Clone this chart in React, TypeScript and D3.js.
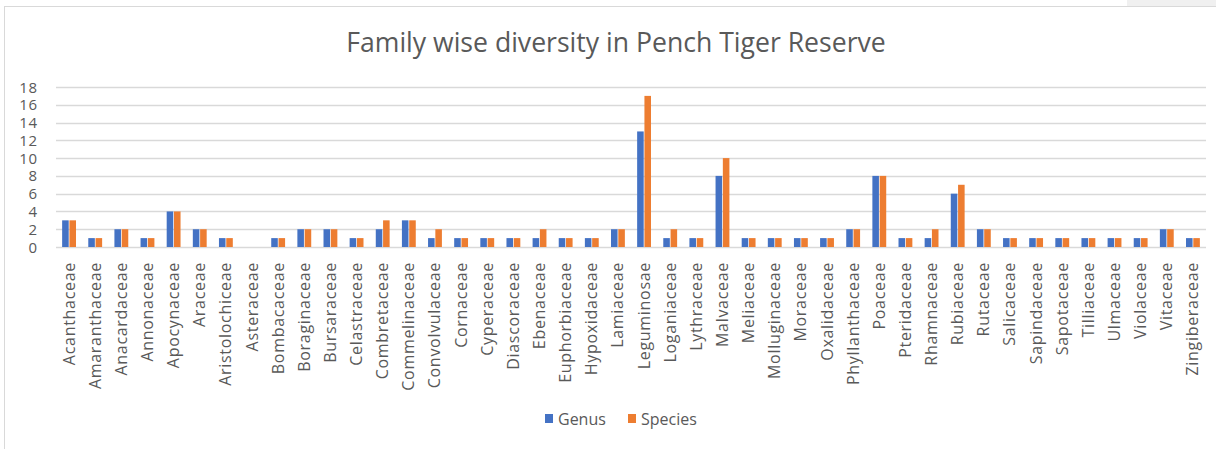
import React, { useRef, useEffect } from 'react';
import * as d3 from 'd3';

const families = [
  'Acanthaceae', 'Amaranthaceae', 'Anacardaceae', 'Annonaceae', 'Apocynaceae', 'Araceae',
  'Aristolochiceae', 'Asteraceae', 'Bombacaceae', 'Boraginaceae', 'Bursaraceae', 'Celastraceae',
  'Combretaceae', 'Commelinaceae', 'Convolvulaceae', 'Cornaceae', 'Cyperaceae', 'Diascoraceae',
  'Ebenaceae', 'Euphorbiaceae', 'Hypoxidaceae', 'Lamiaceae', 'Leguminosae', 'Loganiaceae',
  'Lythraceae', 'Malvaceae', 'Meliaceae', 'Molluginaceae', 'Moraceae', 'Oxalidaceae',
  'Phyllanthaceae', 'Poaceae', 'Pteridaceae', 'Rhamnaceae', 'Rubiaceae', 'Rutaceae',
  'Salicaceae', 'Sapindaceae', 'Sapotaceae', 'Tilliaceae', 'Ulmaceae', 'Violaceae',
  'Vitaceae', 'Zingiberaceae',
];

const genus = [
  3, 1, 2, 1, 4, 2, 1, 0, 1, 2, 2, 1,
  2, 3, 1, 1, 1, 1, 1, 1, 1, 2, 13, 1,
  1, 8, 1, 1, 1, 1, 2, 8, 1, 1, 6, 2,
  1, 1, 1, 1, 1, 1, 2, 1,
];

const species = [
  3, 1, 2, 1, 4, 2, 1, 0, 1, 2, 2, 1,
  3, 3, 2, 1, 1, 1, 2, 1, 1, 2, 17, 2,
  1, 10, 1, 1, 1, 1, 2, 8, 1, 2, 7, 2,
  1, 1, 1, 1, 1, 1, 2, 1,
];

const seriesNames = ['Genus', 'Species'];
const seriesColors = ['#4472C4', '#ED7D31'];
const yTicks = [0, 2, 4, 6, 8, 10, 12, 14, 16, 18];

const W = 1216;
const H = 449;
const FONT = '"Open Sans", sans-serif';

export default function App() {
  const ref = useRef<SVGSVGElement | null>(null);

  useEffect(() => {
    if (!ref.current) return;
    const svg = d3.select(ref.current);
    svg.selectAll('*').remove();

    const left = 56;
    const right = 1206;
    const top = 87;
    const bottom = 247;

    // chart frame
    svg.append('rect').attr('x', 1127).attr('y', 0).attr('width', W - 1127).attr('height', 6).attr('fill', '#f0f0f0');
    svg.append('rect')
      .attr('x', 4.5).attr('y', 6.5).attr('width', W).attr('height', H)
      .attr('fill', '#fff').attr('stroke', '#d9d9d9').attr('stroke-width', 1);

    svg.append('text')
      .attr('x', 616).attr('y', 52)
      .attr('text-anchor', 'middle')
      .attr('font-family', FONT).attr('font-size', 26.6)
      .attr('fill', '#595959')
      .text('Family wise diversity in Pench Tiger Reserve');

    const x0 = d3.scaleBand<string>().domain(families).range([left, right]).paddingInner(0.47).paddingOuter(0.235);
    const x1 = d3.scaleBand<string>().domain(seriesNames).range([0, x0.bandwidth()]).paddingInner(0.1);
    const y = d3.scaleLinear().domain([0, 18]).range([bottom, top]);

    // gridlines
    svg.append('g').selectAll('line').data(yTicks).join('line')
      .attr('x1', left).attr('x2', right)
      .attr('y1', (d) => Math.round(y(d)) + 0.5).attr('y2', (d) => Math.round(y(d)) + 0.5)
      .attr('stroke', '#d9d9d9').attr('stroke-width', 1.3);

    svg.append('g').selectAll('text').data(yTicks).join('text')
      .attr('x', 38).attr('y', (d) => y(d) + 5.5)
      .attr('text-anchor', 'end')
      .attr('font-family', FONT).attr('font-size', 15).attr('letter-spacing', 0.8).attr('fill', '#595959')
      .text((d) => d);

    const values = [genus, species];
    values.forEach((vals, si) => {
      svg.append('g').selectAll('rect').data(vals).join('rect')
        .attr('x', (_d, i) => (x0(families[i]) as number) + (x1(seriesNames[si]) as number))
        .attr('y', (d) => y(d))
        .attr('width', x1.bandwidth())
        .attr('height', (d) => y(0) - y(d))
        .attr('fill', seriesColors[si]);
    });

    // category labels
    svg.append('g').selectAll('text').data(families).join('text')
      .attr('transform', (d) => `translate(${(x0(d) as number) + x0.bandwidth() / 2 + 5.5},262) rotate(-90)`)
      .attr('text-anchor', 'end')
      .attr('font-family', FONT).attr('font-size', 16).attr('letter-spacing', 0.7).attr('fill', '#595959')
      .text((d) => d);

    // legend
    const legend = svg.append('g');
    const lx = [545, 628];
    seriesNames.forEach((name, i) => {
      legend.append('rect').attr('x', lx[i]).attr('y', 414).attr('width', 8).attr('height', 9).attr('fill', seriesColors[i]);
      legend.append('text').attr('x', lx[i] + 13).attr('y', 425)
        .attr('font-family', FONT).attr('font-size', 16).attr('fill', '#595959')
        .text(name);
    });
  }, []);

  return (
    <svg ref={ref} width={W} height={H} style={{ position: 'absolute', left: 0, top: 0, background: '#fff' }} />
  );
}
